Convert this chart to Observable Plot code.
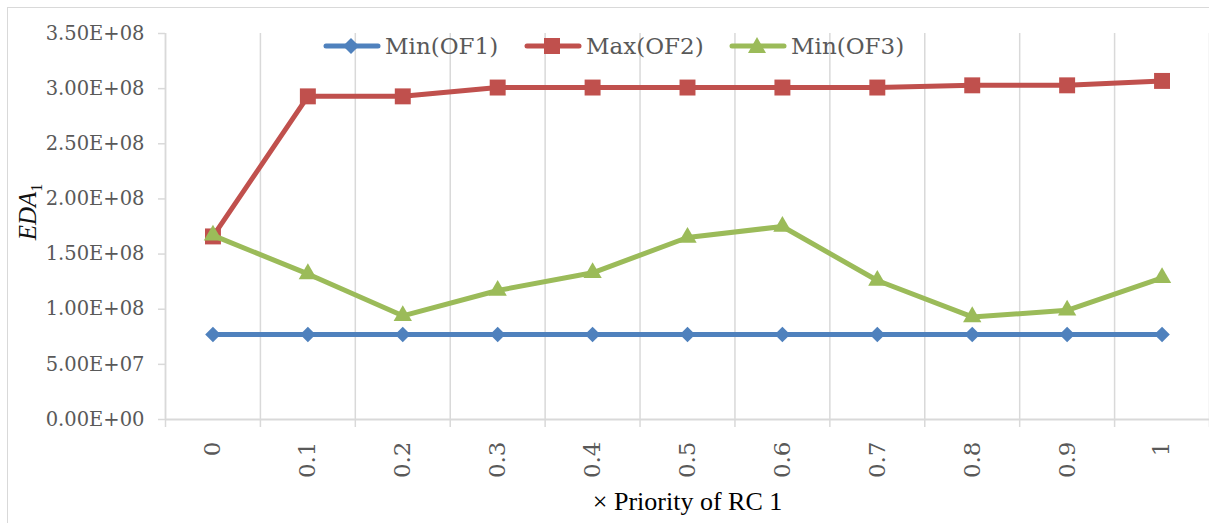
<!DOCTYPE html>
<html>
<head>
<meta charset="utf-8">
<script src="https://cdn.jsdelivr.net/npm/d3@7"></script>
<script src="https://cdn.jsdelivr.net/npm/@observablehq/plot@0.6"></script>
<style>
  html, body { margin: 0; padding: 0; background: #fff; }
  #chart { position: relative; width: 1209px; height: 523px; overflow: hidden; }
  #frame { position: absolute; left: 7px; top: 7px; width: 1300px; height: 600px;
           border-left: 1.5px solid #d9d9d9; border-top: 1.5px solid #d9d9d9; box-sizing: border-box; }
  .legend-item { position: absolute; top: 31px; height: 30px; display: flex; align-items: center;
                 font-family: "DejaVu Serif", serif; font-size: 23px; color: #595959; white-space: nowrap; }
  .legend-item svg { margin-right: 4px; }
  #xlabel { position: absolute; left: 165px; width: 1045px; top: 487px; text-align: center;
            font-family: "Liberation Serif", serif; font-size: 26px; color: #000; }
</style>
</head>
<body>
<div id="chart"><div id="frame"></div></div>
<script>
// Priority of RC 1 (categories along the x axis)
const priority = [0, 0.1, 0.2, 0.3, 0.4, 0.5, 0.6, 0.7, 0.8, 0.9, 1];
// EDA_1 for each objective
const minOF1 = [7.7e7, 7.7e7, 7.7e7, 7.7e7, 7.7e7, 7.7e7, 7.7e7, 7.7e7, 7.7e7, 7.7e7, 7.7e7];
const maxOF2 = [1.66e8, 2.93e8, 2.93e8, 3.01e8, 3.01e8, 3.01e8, 3.01e8, 3.01e8, 3.03e8, 3.03e8, 3.07e8];
const minOF3 = [1.67e8, 1.32e8, 9.4e7, 1.17e8, 1.33e8, 1.65e8, 1.75e8, 1.26e8, 9.3e7, 9.9e7, 1.285e8];
// y-axis ticks
const yTicks = [0, 5e7, 1e8, 1.5e8, 2e8, 2.5e8, 3e8, 3.5e8];

const seriesNames = ["Min(OF1)", "Max(OF2)", "Min(OF3)"];
const seriesColors = ["#4f81bd", "#c0504d", "#9bbb59"];
const seriesSymbols = ["diamond2", "square", "triangle"];
const seriesR = [7, 9, 6.8];

const table = [minOF1, maxOF2, minOF3].flatMap((vals, s) =>
  vals.map((v, i) => ({series: seriesNames[s], x: priority[i], y: v})));

// category boundaries (half a step either side of each category)
const step = 0.1;
const bounds = [priority[0] - step / 2, ...priority.map(p => p + step / 2)];

// Excel-style scientific format, e.g. 3.50E+08
const fmtE = v => {
  if (v === 0) return "0.00E+00";
  const [m, e] = v.toExponential(2).split("e");
  const n = Math.abs(+e);
  return `${m}E${+e < 0 ? "-" : "+"}${String(n).padStart(2, "0")}`;
};

const marks = [
  Plot.gridX(bounds, {stroke: "#d9d9d9", strokeOpacity: 1, strokeWidth: 1.5}),
  Plot.ruleY([0], {stroke: "#d9d9d9", strokeWidth: 2}),
  Plot.ruleX([bounds[0]], {stroke: "#d9d9d9", strokeWidth: 1.5}),
  Plot.axisY({ticks: yTicks, tickSize: 7, tickPadding: 14, tickFormat: fmtE, label: null,
              stroke: "#d9d9d9", strokeWidth: 1.5, fill: "#595959"}),
  Plot.axisX({ticks: bounds, tickSize: 8, tickFormat: () => "", label: null,
              stroke: "#d9d9d9", strokeWidth: 1.5}),
  Plot.axisX({ticks: priority, tickSize: 0, tickPadding: 22, tickRotate: -90, label: null,
              tickFormat: d => String(d), fontSize: 23, fill: "#595959"})
];

seriesNames.forEach((name, s) => {
  const rows = table.filter(d => d.series === name);
  marks.push(Plot.line(rows, {x: "x", y: "y", stroke: seriesColors[s], strokeWidth: 5,
                              strokeLinejoin: "round", strokeLinecap: "round"}));
  marks.push(Plot.dot(rows, {x: "x", y: "y", symbol: seriesSymbols[s], r: seriesR[s],
                             fill: seriesColors[s], stroke: "none"}));
});

const svg = Plot.plot({
  width: 1209,
  height: 523,
  marginLeft: 165,
  marginRight: 0,
  marginTop: 33,
  marginBottom: 104,
  style: {fontFamily: "'DejaVu Serif', serif", fontSize: "19.5px", color: "#595959",
          background: "transparent", overflow: "visible"},
  x: {domain: [bounds[0], bounds[bounds.length - 1]]},
  y: {domain: [0, 3.5e8]},
  marks
});
svg.style.position = "absolute";
svg.style.left = "0px";
svg.style.top = "0px";

// y-axis title: italic EDA with subscript 1
const yTitle = d3.select(svg).append("text")
  .attr("transform", "translate(36,212) rotate(-90)")
  .attr("text-anchor", "middle")
  .attr("fill", "#111")
  .style("font-family", "'Liberation Serif', serif");
yTitle.append("tspan").attr("font-style", "italic").attr("font-size", 25).text("EDA");
yTitle.append("tspan").attr("font-size", 16).attr("dy", 6).text("1");

const chart = document.getElementById("chart");
chart.appendChild(svg);

// legend
const legendLeft = [323, 524, 729];
const symbolSvg = s => {
  const c = seriesColors[s];
  let shape;
  if (s === 0) shape = `<polygon points="28,2 36,10 28,18 20,10" fill="${c}"/>`;
  else if (s === 1) shape = `<rect x="20" y="2" width="16" height="16" fill="${c}"/>`;
  else shape = `<polygon points="28,1 37,17 19,17" fill="${c}"/>`;
  return `<svg width="58" height="20" viewBox="0 0 58 20"><line x1="3" y1="10" x2="55" y2="10" stroke="${c}" stroke-width="5" stroke-linecap="round"/>${shape}</svg>`;
};
seriesNames.forEach((name, s) => {
  const item = document.createElement("div");
  item.className = "legend-item";
  item.style.left = legendLeft[s] + "px";
  item.innerHTML = symbolSvg(s) + `<span>${name}</span>`;
  chart.appendChild(item);
});

const xl = document.createElement("div");
xl.id = "xlabel";
xl.textContent = "× Priority of RC 1";
chart.appendChild(xl);
</script>
</body>
</html>
